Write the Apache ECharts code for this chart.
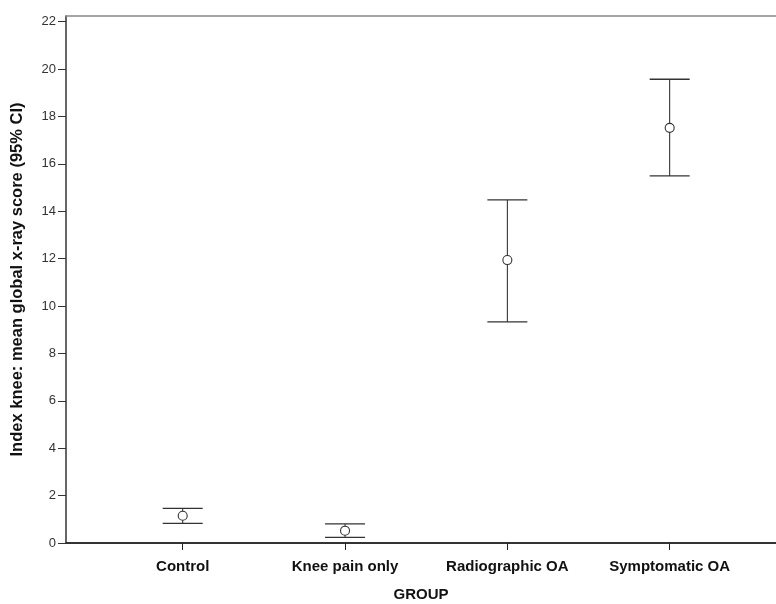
<!DOCTYPE html>
<html>
<head>
<meta charset="utf-8">
<script src="https://cdn.jsdelivr.net/npm/echarts@6/dist/echarts.min.js"></script>
<style>
  html, body { margin: 0; padding: 0; background: #fff; }
  #chart { width: 776px; height: 604px; }
</style>
</head>
<body>
<div id="chart"></div>
<script>
// Group labels and the mean / 95% CI of the index-knee global x-ray score
const groups = ['Control', 'Knee pain only', 'Radiographic OA', 'Symptomatic OA'];
const groupPositions = [1, 2, 3, 4];
const means = [1.15, 0.52, 11.94, 17.52];
const ciLower = [0.83, 0.24, 9.33, 15.49];
const ciUpper = [1.46, 0.81, 14.48, 19.57];
const yTicks = [0, 2, 4, 6, 8, 10, 12, 14, 16, 18, 20, 22];

const FONT = '"Liberation Sans", Arial, sans-serif';

const seriesData = groupPositions.map((x, i) => [x, means[i], ciLower[i], ciUpper[i]]);

function renderErrorBar(params, api) {
  const x = api.value(0);
  const pMean = api.coord([x, api.value(1)]);
  const pLow = api.coord([x, api.value(2)]);
  const pHigh = api.coord([x, api.value(3)]);
  const capHalf = 20;
  const r = 4.5;
  const lineStyle = { stroke: '#222', lineWidth: 1, fill: null };
  const capStyle = { stroke: '#333', lineWidth: 1.3, fill: null };
  return {
    type: 'group',
    children: [
      { type: 'line', shape: { x1: pLow[0], y1: pLow[1], x2: pHigh[0], y2: pHigh[1] }, style: lineStyle },
      { type: 'line', shape: { x1: pHigh[0] - capHalf, y1: pHigh[1], x2: pHigh[0] + capHalf, y2: pHigh[1] }, style: capStyle },
      { type: 'line', shape: { x1: pLow[0] - capHalf, y1: pLow[1], x2: pLow[0] + capHalf, y2: pLow[1] }, style: capStyle },
      { type: 'circle', shape: { cx: pMean[0], cy: pMean[1], r: r }, style: { stroke: '#333', lineWidth: 1.1, fill: '#fff' } }
    ]
  };
}

const chart = echarts.init(document.getElementById('chart'), null, { renderer: 'canvas' });
chart.setOption({
  animation: false,
  backgroundColor: '#fff',
  grid: { left: 66, right: 0, top: 16, bottom: 61, containLabel: false, outerBoundsMode: 'none' },
  xAxis: [
    {
      type: 'value',
      position: 'bottom',
      min: 0.281,
      max: 4.655,
      name: 'GROUP',
      nameLocation: 'middle',
      nameGap: 44,
      nameTextStyle: { fontFamily: FONT, fontWeight: 'bold', fontSize: 15, color: '#111' },
      splitLine: { show: false },
      axisLine: { show: true, onZero: false, lineStyle: { color: '#333', width: 2 } },
      axisTick: { show: true, length: 7, customValues: groupPositions, lineStyle: { color: '#222', width: 1 } },
      axisLabel: {
        customValues: groupPositions,
        margin: 16,
        fontFamily: FONT, fontWeight: 'bold', fontSize: 15, color: '#111',
        formatter: v => groups[Math.round(v) - 1] || ''
      }
    },
    {
      type: 'value',
      position: 'top',
      min: 0.281,
      max: 4.655,
      splitLine: { show: false },
      axisLine: { show: true, onZero: false, lineStyle: { color: '#888', width: 1.5 } },
      axisTick: { show: false },
      axisLabel: { show: false }
    }
  ],
  yAxis: {
    type: 'value',
    min: 0,
    max: 22.24,
    name: 'Index knee: mean global x-ray score (95% CI)',
    nameLocation: 'middle',
    nameRotate: 90,
    nameGap: 40,
    nameTextStyle: { fontFamily: FONT, fontWeight: 'bold', fontSize: 16.5, color: '#111' },
    splitLine: { show: false },
    axisLine: { show: true, onZero: false, lineStyle: { color: '#333', width: 1.5 } },
    axisTick: { show: true, length: 8, customValues: yTicks, lineStyle: { color: '#333', width: 1 } },
    axisLabel: { customValues: yTicks, margin: 10, fontFamily: FONT, fontSize: 13, color: '#333' }
  },
  series: [{
    type: 'custom',
    xAxisIndex: 0,
    renderItem: renderErrorBar,
    encode: { x: 0, y: [1, 2, 3] },
    data: seriesData
  }]
});
</script>
</body>
</html>
